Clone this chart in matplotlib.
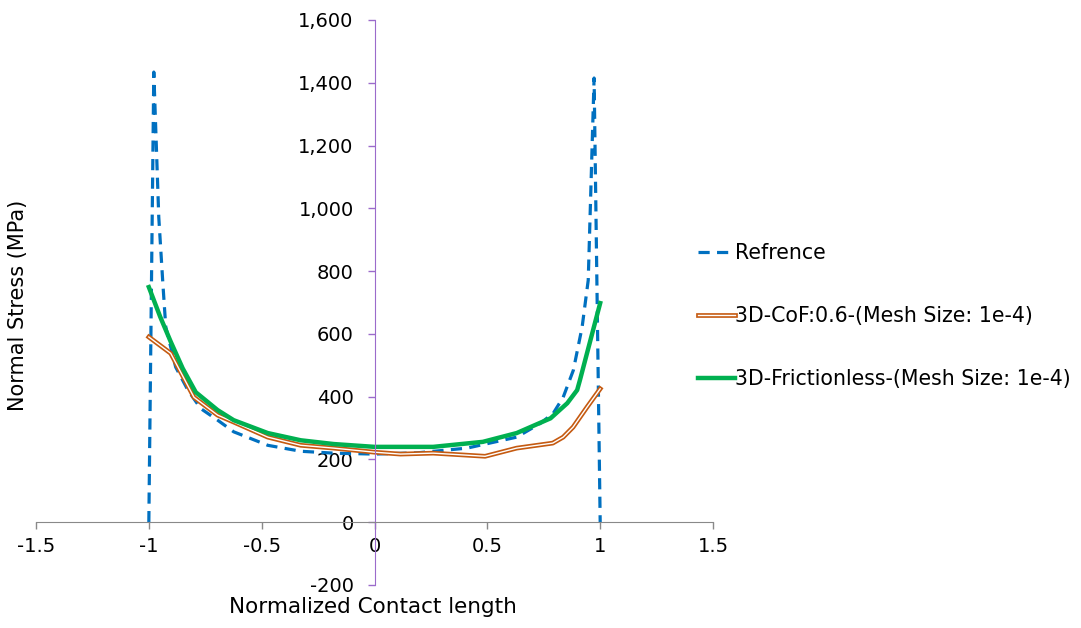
import matplotlib.pyplot as plt
import matplotlib.patheffects as pe
from matplotlib.ticker import FuncFormatter

plt.rcParams.update({'font.size': 14, 'font.family': 'DejaVu Sans'})

# reference (analytical) curve
ref_x = [-1.0, -0.978, -0.956, -0.938, -0.925, -0.881, -0.827, -0.77, -0.695, -0.624,
         -0.473, -0.327, -0.181, 0.0, 0.19, 0.41, 0.63, 0.735, 0.792, 0.836,
         0.881, 0.92, 0.947, 0.973, 1.0]
ref_y = [0, 1434, 972, 762, 622, 494, 421, 362, 325, 288,
         245, 226, 220, 217, 221, 236, 271, 315, 347, 398,
         484, 622, 771, 1415, 0]

# 3D model with friction
cof_x = [-1.0, -0.903, -0.8, -0.695, -0.624, -0.473, -0.327, -0.181, 0.0, 0.115,
         0.26, 0.49, 0.63, 0.79, 0.836, 0.88, 0.942, 1.0]
cof_y = [590, 538, 398, 341, 319, 271, 245, 236, 223, 217,
         220, 210, 236, 252, 271, 303, 367, 425]

# 3D frictionless model
fl_x = [-1.0, -0.95, -0.903, -0.85, -0.792, -0.695, -0.624, -0.473, -0.327, -0.181, 0.0, 0.26,
        0.48, 0.63, 0.78, 0.854, 0.898, 0.91, 1.0]
fl_y = [749, 655, 575, 490, 414, 357, 325, 284, 261, 249, 240, 240,
        256, 284, 331, 379, 421, 452, 698]

fig = plt.figure(figsize=(10.81, 6.28), dpi=100)
ax = fig.add_axes([0.0333, 0.0685, 0.6263, 0.8997])

ref_line, = ax.plot(ref_x, ref_y, color='#0070C0', lw=2.3, linestyle='--',
                    dashes=(3.5, 2.3), label='Refrence')
cof_line, = ax.plot(cof_x, cof_y, color='white', lw=1.0, label='3D-CoF:0.6-(Mesh Size: 1e-4)',
                    path_effects=[pe.Stroke(linewidth=3.4, foreground='#C55A11'), pe.Normal()])
fl_line, = ax.plot(fl_x, fl_y, color='#00B050', lw=3.2, label='3D-Frictionless-(Mesh Size: 1e-4)')

ax.set_xlim(-1.5, 1.5)
ax.set_ylim(-200, 1600)
ax.set_xticks([-1.5, -1, -0.5, 0, 0.5, 1, 1.5])
ax.set_yticks(range(-200, 1601, 200))
ax.xaxis.set_major_formatter(FuncFormatter(lambda v, p: '%g' % v))
ax.yaxis.set_major_formatter(FuncFormatter(lambda v, p: '{:,.0f}'.format(v)))

ax.spines['left'].set_position(('data', 0))
ax.spines['bottom'].set_position(('data', 0))
ax.spines['top'].set_visible(False)
ax.spines['right'].set_visible(False)
ax.spines['left'].set_color('#9B6BCB')
ax.spines['bottom'].set_color('#898989')
ax.tick_params(axis='y', colors='#9B6BCB', labelcolor='black', length=5, width=1, pad=10)
ax.tick_params(axis='x', colors='#898989', labelcolor='black', length=5, width=1, pad=6)

fig.text(0.345, 0.033, 'Normalized Contact length', ha='center', va='center', fontsize=15.5)
fig.text(0.017, 0.514, 'Normal Stress (MPa)', ha='center', va='center', rotation=90, fontsize=15)

ax.legend(handles=[ref_line, cof_line, fl_line], loc='center left',
          bbox_to_anchor=(0.629, 0.497), bbox_transform=fig.transFigure,
          frameon=False, handlelength=1.8, handletextpad=0.0, labelspacing=2.1,
          fontsize=14.8)

fig.savefig('out.png', dpi=100)
